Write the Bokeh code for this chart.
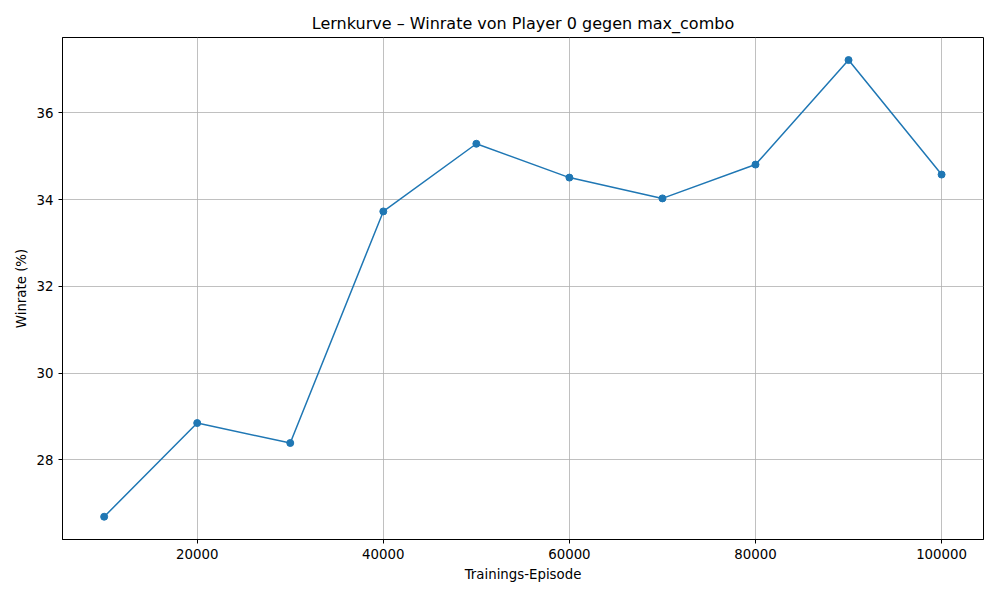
from bokeh.plotting import figure
from bokeh.models import FixedTicker, Range1d
from bokeh.embed import file_html
from bokeh.resources import INLINE

episodes = [10000, 20000, 30000, 40000, 50000, 60000, 70000, 80000, 90000, 100000]
winrate = [26.69, 28.85, 28.39, 33.73, 35.29, 34.51, 34.03, 34.81, 37.22, 34.58]

x_ticks = [20000, 40000, 60000, 80000, 100000]
y_ticks = [28, 30, 32, 34, 36]
color = "#1f77b4"

p = figure(
    width=984,
    height=584,
    output_backend="svg",
    toolbar_location=None,
    tools="",
    title="Lernkurve – Winrate von Player 0 gegen max_combo",
    x_range=Range1d(5523, 104504),
    y_range=Range1d(26.165, 37.74),
    x_axis_label="Trainings-Episode",
    y_axis_label="Winrate (%)",
    min_border_left=62,
    min_border_right=1,
    min_border_top=37,
    min_border_bottom=42,
)

p.line(episodes, winrate, line_color=color, line_width=1.5)
p.scatter(episodes, winrate, size=7, fill_color=color, line_color=color)

p.title.align = "center"
p.title.text_font = "DejaVu Sans"
p.title.text_font_size = "12pt"
p.title.text_font_style = "normal"
p.title.text_color = "black"

for ax in (p.xaxis, p.yaxis):
    ax.axis_label_text_font = "DejaVu Sans"
    ax.axis_label_text_font_size = "10pt"
    ax.axis_label_text_font_style = "normal"
    ax.axis_label_text_color = "black"
    ax.major_label_text_font = "DejaVu Sans"
    ax.major_label_text_font_size = "10pt"
    ax.major_label_text_color = "black"
    ax.minor_tick_line_color = None
    ax.major_tick_in = 0
    ax.major_tick_out = 4
    ax.axis_line_color = "black"

p.xaxis.ticker = FixedTicker(ticks=x_ticks)
p.yaxis.ticker = FixedTicker(ticks=y_ticks)
p.xaxis.formatter.use_scientific = False

p.grid.grid_line_color = "#b0b0b0"
p.grid.grid_line_width = 0.8
p.outline_line_color = "black"
p.outline_line_alpha = 1

open("out.html", "w").write(file_html(p, INLINE))
